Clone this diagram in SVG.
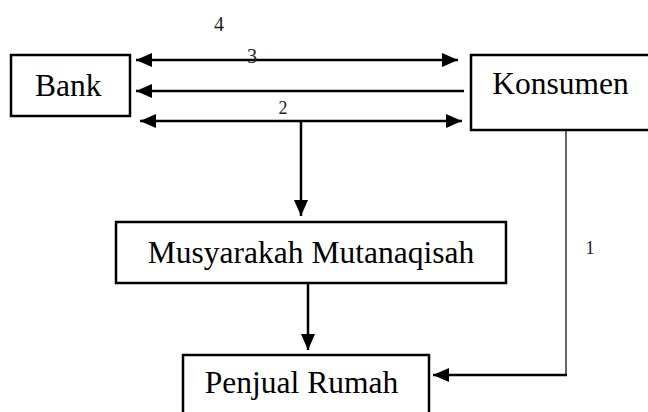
<svg xmlns="http://www.w3.org/2000/svg" width="648" height="412" viewBox="0 0 648 412">
<style>
.box{fill:#fff;stroke:#000;stroke-width:2.5}
.lbl{font-family:"Liberation Serif","Times New Roman",serif;font-size:31.5px;fill:#000}
.num{font-family:"Liberation Serif","Times New Roman",serif;fill:#222}
.ln{fill:none;stroke:#000;stroke-width:2.5}
.thin{fill:none;stroke:#000;stroke-width:1.2}
</style>
<defs>
<marker id="ah" markerUnits="userSpaceOnUse" markerWidth="16" markerHeight="14" refX="16" refY="7" orient="auto-start-reverse" viewBox="0 0 16 14">
<path d="M0,0 L16,7 L0,14 z" fill="#000"/>
</marker>
</defs>
<rect width="648" height="412" fill="#fff"/>
<g id="bank"><rect class="box" x="11" y="55" width="119" height="61"/><text class="lbl" x="35" y="96">Bank</text></g>
<g id="konsumen"><rect class="box" x="471" y="55" width="190" height="75"/><text class="lbl" x="560.5" y="94" text-anchor="middle">Konsumen</text></g>
<g id="musyarakah"><rect class="box" x="116" y="222" width="390" height="61"/><text class="lbl" x="311" y="263" text-anchor="middle">Musyarakah Mutanaqisah</text></g>
<g id="penjual"><rect class="box" x="183" y="355" width="246" height="70"/><text class="lbl" x="301.5" y="393" text-anchor="middle">Penjual Rumah</text></g>
<g id="connectors">
<line class="ln" x1="136" y1="60" x2="458" y2="60" marker-start="url(#ah)" marker-end="url(#ah)"/>
<line class="ln" x1="464" y1="91" x2="136" y2="91" marker-end="url(#ah)"/>
<line class="ln" x1="140" y1="121" x2="462" y2="121" marker-start="url(#ah)" marker-end="url(#ah)"/>
<line class="ln" x1="301" y1="121" x2="301" y2="216" marker-end="url(#ah)"/>
<line class="ln" x1="308" y1="283" x2="308" y2="350" marker-end="url(#ah)"/>
<line class="thin" x1="566" y1="130" x2="566" y2="376"/>
<line class="ln" x1="567" y1="375" x2="433" y2="375" marker-end="url(#ah)"/>
<text class="num" x="219" y="31" font-size="20" text-anchor="middle">4</text>
<text class="num" x="252" y="63" font-size="20" text-anchor="middle">3</text>
<text class="num" x="283" y="114" font-size="18" text-anchor="middle">2</text>
<text class="num" x="590" y="254" font-size="18" text-anchor="middle">1</text>
</g>
</svg>
